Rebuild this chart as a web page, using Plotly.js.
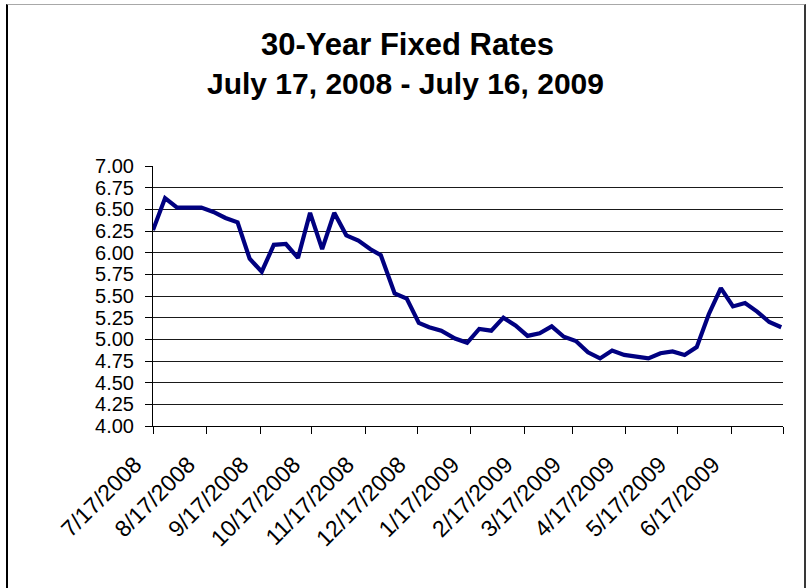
<!DOCTYPE html>
<html>
<head>
<meta charset="utf-8">
<script src="https://cdn.plot.ly/plotly-3.0.1.min.js"></script>
<style>
  html, body { margin: 0; padding: 0; background: #fff; }
  #wrap { position: relative; width: 811px; height: 588px; overflow: hidden; }
  #chart { width: 811px; height: 588px; }
  #frame {
    position: absolute; left: 6px; top: 4px; width: 796px; height: 620px;
    border-left: 2px solid #000; border-top: 1px solid #a8a8a8; border-right: 2px solid #383838;
    pointer-events: none;
  }
</style>
</head>
<body>
<div id="wrap">
  <div id="chart"></div>
  <div id="frame"></div>
</div>
<script>
// Weekly 30-year fixed mortgage rates (%)
const weekDates = [
  '2008-07-17','2008-07-24','2008-07-31','2008-08-07','2008-08-14','2008-08-21','2008-08-28',
  '2008-09-04','2008-09-11','2008-09-18','2008-09-25','2008-10-02','2008-10-09','2008-10-16',
  '2008-10-23','2008-10-30','2008-11-06','2008-11-13','2008-11-20','2008-11-26','2008-12-04',
  '2008-12-11','2008-12-18','2008-12-24','2008-12-31','2009-01-08','2009-01-15','2009-01-22',
  '2009-01-29','2009-02-05','2009-02-12','2009-02-19','2009-02-26','2009-03-05','2009-03-12',
  '2009-03-19','2009-03-26','2009-04-02','2009-04-09','2009-04-16','2009-04-23','2009-04-30',
  '2009-05-07','2009-05-14','2009-05-21','2009-05-28','2009-06-04','2009-06-11','2009-06-18',
  '2009-06-25','2009-07-02','2009-07-09','2009-07-16'
];
const rates = [
  6.26, 6.63, 6.52, 6.52, 6.52, 6.47, 6.40,
  6.35, 5.93, 5.78, 6.09, 6.10, 5.94, 6.46,
  6.04, 6.46, 6.20, 6.14, 6.04, 5.97, 5.53,
  5.47, 5.19, 5.14, 5.10, 5.01, 4.96, 5.12,
  5.10, 5.25, 5.16, 5.04, 5.07, 5.15, 5.03,
  4.98, 4.85, 4.78, 4.87, 4.82, 4.80, 4.78,
  4.84, 4.86, 4.82, 4.91, 5.29, 5.59, 5.38,
  5.42, 5.32, 5.20, 5.14
];

// Monthly category ticks along the bottom
const monthTicks = [
  '2008-07-17','2008-08-17','2008-09-17','2008-10-17','2008-11-17','2008-12-17',
  '2009-01-17','2009-02-17','2009-03-17','2009-04-17','2009-05-17','2009-06-17','2009-07-17'
];
const monthLabels = [
  '7/17/2008','8/17/2008','9/17/2008','10/17/2008','11/17/2008','12/17/2008',
  '1/17/2009','2/17/2009','3/17/2009','4/17/2009','5/17/2009','6/17/2009',''
];

// Rate axis ticks and the interior gridlines
const rateTicks = [4.00, 4.25, 4.50, 4.75, 5.00, 5.25, 5.50, 5.75, 6.00, 6.25, 6.50, 6.75, 7.00];
const gridTicks = [4.25, 4.50, 4.75, 5.00, 5.25, 5.50, 5.75, 6.00, 6.25, 6.50, 6.75];

const FONT = '"Liberation Sans", Arial, sans-serif';

const trace = {
  x: weekDates,
  y: rates,
  type: 'scatter',
  mode: 'lines',
  line: { color: '#000080', width: 4.2 },
  hoverinfo: 'x+y'
};

// Invisible carrier for the gridline axis
const gridCarrier = {
  x: [weekDates[0]], y: [rates[0]], yaxis: 'y2', type: 'scatter', mode: 'markers',
  marker: { opacity: 0 }, hoverinfo: 'skip', showlegend: false
};

const layout = {
  width: 811,
  height: 588,
  paper_bgcolor: '#ffffff',
  plot_bgcolor: '#ffffff',
  showlegend: false,
  margin: { l: 153, r: 28, t: 166, b: 162, pad: 0 },
  font: { family: FONT, color: '#000' },
  annotations: [
    { text: '<b>30-Year Fixed Rates</b>', xref: 'paper', yref: 'paper', x: 0.404, y: 1, yshift: 122,
      showarrow: false, xanchor: 'center', yanchor: 'middle', font: { size: 31, family: FONT, color: '#000' } },
    { text: '<b>July 17, 2008 - July 16, 2009</b>', xref: 'paper', yref: 'paper', x: 0.4, y: 1, yshift: 83,
      showarrow: false, xanchor: 'center', yanchor: 'middle', font: { size: 30, family: FONT, color: '#000' } }
  ],
  xaxis: {
    type: 'date',
    range: [monthTicks[0], monthTicks[monthTicks.length - 1]],
    tickmode: 'array',
    tickvals: monthTicks,
    ticktext: monthLabels,
    tickangle: -45,
    ticks: 'outside',
    ticklen: 7,
    tickwidth: 1,
    tickcolor: '#000',
    showline: true,
    linecolor: '#000',
    linewidth: 1,
    showgrid: false,
    zeroline: false,
    ticklabelstandoff: 8,
    ticklabelshift: -18,
    tickfont: { size: 23, family: FONT, color: '#000' },
    fixedrange: true
  },
  yaxis: {
    range: [4, 7],
    tickmode: 'array',
    tickvals: rateTicks,
    ticktext: rateTicks.map(v => v.toFixed(2)),
    ticks: 'outside',
    ticklen: 7,
    tickwidth: 1,
    tickcolor: '#000',
    showline: true,
    linecolor: '#000',
    linewidth: 1,
    showgrid: false,
    zeroline: false,
    ticklabelstandoff: 7,
    tickfont: { size: 20, family: FONT, color: '#000' },
    fixedrange: true
  },
  yaxis2: {
    overlaying: 'y',
    range: [4, 7],
    tickmode: 'array',
    tickvals: gridTicks,
    showticklabels: false,
    ticks: '',
    showgrid: true,
    gridcolor: '#1a1a1a',
    gridwidth: 1,
    showline: false,
    zeroline: false,
    layer: 'below traces',
    fixedrange: true
  }
};

Plotly.newPlot('chart', [gridCarrier, trace], layout, { displayModeBar: false, staticPlot: true });
</script>
</body>
</html>
